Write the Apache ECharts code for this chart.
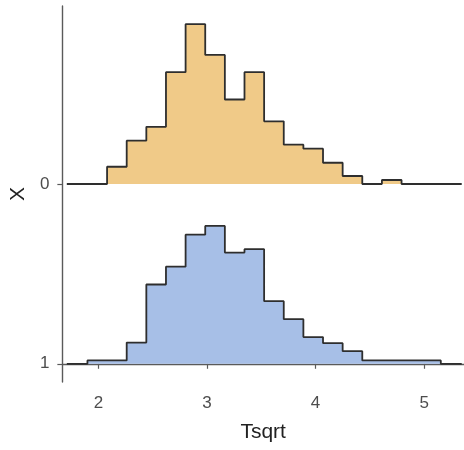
<!DOCTYPE html>
<html>
<head>
<meta charset="utf-8">
<script src="https://cdn.jsdelivr.net/npm/echarts@6/dist/echarts.min.js"></script>
<style>
  html, body { margin: 0; padding: 0; background: #fff; }
  #chart { width: 464px; height: 450px; }
</style>
</head>
<body>
<div id="chart"></div>
<script>
// Group labels on the vertical axis, top row first
const groups = ['0', '1'];
// Histogram bins shared by both groups
const binStart = 1.899;
const binWidth = 0.1808;
// Index of the first bin drawn for each group
const firstBin0 = 1;
const firstBin1 = 0;
// Density per bin, group "0"
const density0 = [0.108, 0.271, 0.358, 0.700, 1.000, 0.808, 0.529, 0.700, 0.392, 0.246, 0.221, 0.133, 0.050, 0.000, 0.025];
// Density per bin, group "1"
const density1 = [0.021, 0.021, 0.133, 0.496, 0.608, 0.808, 0.863, 0.696, 0.717, 0.392, 0.279, 0.167, 0.129, 0.079, 0.021, 0.021, 0.021, 0.021];
// Horizontal extent of the outline baseline
const lineStart = 1.709;
const lineEnd = 5.346;
// Vertical distance between the two ridge baselines
const rowGap = 1.125;
const xTicks = [2, 3, 4, 5];

function ridgePoints(dens, first, base) {
  const pts = [[lineStart, base]];
  dens.forEach(function (d, i) {
    pts.push([binStart + (first + i) * binWidth, base + d]);
  });
  pts.push([binStart + (first + dens.length) * binWidth, base]);
  pts.push([lineEnd, base]);
  return pts;
}

const baseTop = rowGap;   // group "0"
const baseBottom = 0;     // group "1"

const chart = echarts.init(document.getElementById('chart'), null, { renderer: 'canvas' });

const axisGrey = '#5a5a5a';
const labelGrey = '#4d4d4d';
const font = 'Liberation Sans, Arial, sans-serif';

chart.setOption({
  animation: false,
  grid: { left: 62, right: 0, top: 6, bottom: 68 },
  xAxis: {
    type: 'value',
    min: 1.668,
    max: 5.367,
    name: 'Tsqrt',
    nameLocation: 'middle',
    nameGap: 40,
    nameTextStyle: { color: '#222', fontSize: 21, fontFamily: font },
    axisLine: { show: true, lineStyle: { color: axisGrey, width: 1.4 } },
    axisTick: { show: true, length: 5, customValues: xTicks, lineStyle: { color: axisGrey, width: 1.2 } },
    axisLabel: { customValues: xTicks, margin: 13, color: labelGrey, fontSize: 17, fontFamily: font },
    splitLine: { show: false }
  },
  yAxis: {
    type: 'value',
    min: -0.114,
    max: 2.239,
    name: 'X',
    nameLocation: 'middle',
    nameGap: 33,
    nameRotate: 90,
    nameTextStyle: { color: '#222', fontSize: 21, fontFamily: font },
    axisLine: { show: true, lineStyle: { color: axisGrey, width: 1.4 } },
    axisTick: { show: true, length: 5, customValues: [baseBottom, baseTop], lineStyle: { color: axisGrey, width: 1.2 } },
    axisLabel: {
      customValues: [baseBottom, baseTop],
      margin: 13,
      color: labelGrey,
      fontSize: 17,
      fontFamily: font,
      formatter: function (v) { return Math.abs(v - baseTop) < 1e-6 ? groups[0] : groups[1]; }
    },
    splitLine: { show: false }
  },
  series: [
    {
      name: groups[0],
      type: 'line',
      step: 'end',
      symbol: 'none',
      data: ridgePoints(density0, firstBin0, baseTop),
      lineStyle: { color: '#2e2e2e', width: 1.8 },
      areaStyle: { color: '#F0CA88', opacity: 1, origin: baseTop },
      z: 2
    },
    {
      name: groups[1],
      type: 'line',
      step: 'end',
      symbol: 'none',
      data: ridgePoints(density1, firstBin1, baseBottom),
      lineStyle: { color: '#2e2e2e', width: 1.8 },
      areaStyle: { color: '#A7BFE7', opacity: 1, origin: baseBottom },
      z: 2
    }
  ]
});
</script>
</body>
</html>
